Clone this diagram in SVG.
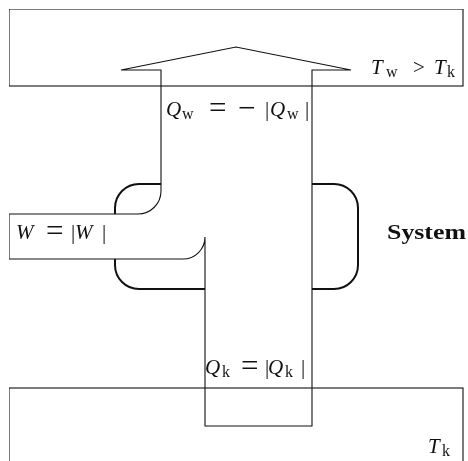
<svg xmlns="http://www.w3.org/2000/svg" width="468" height="461" viewBox="0 0 468 461">
<defs>
<filter id="gray" x="0" y="0" width="1" height="1"><feColorMatrix type="saturate" values="0"/></filter>
</defs>
<style>
.thin{fill:none;stroke:#111;stroke-width:1.1}
.thick{fill:none;stroke:#111;stroke-width:2}
text{font-family:"Liberation Serif","DejaVu Serif",serif;fill:#111}
.m{font-style:italic;font-size:21px}
.r{font-style:normal;font-size:21px}
.e{font-style:normal;font-size:31px}
.s{font-style:normal;font-size:16px}
.b{font-weight:bold;font-size:21px}
</style>
<rect width="468" height="461" fill="#fff"/>
<g filter="url(#gray)">
<g id="hot-reservoir">
<rect class="thin" x="9" y="9" width="454" height="77"/>
<text class="m" y="74"><tspan x="371">T</tspan><tspan class="s" x="386" y="77">w</tspan><tspan class="r" x="413" y="74">&gt;</tspan><tspan x="434">T</tspan><tspan class="s" x="447" y="77">k</tspan></text>
</g>
<g id="cold-reservoir">
<rect class="thin" x="9" y="388" width="454" height="90"/>
<text class="m" y="453"><tspan x="428">T</tspan><tspan class="s" x="442" y="456">k</tspan></text>
</g>
<g id="system">
<path class="thick" d="M161,184 H139 A24,24 0 0 0 115,208 V214"/>
<path class="thick" d="M115,259 V265 A24,24 0 0 0 139,289 H205"/>
<path class="thick" d="M312,184 H334 A24,24 0 0 1 358,208 V265 A24,24 0 0 1 334,289 H312"/>
<text class="b" x="387" y="239" textLength="79" lengthAdjust="spacingAndGlyphs">System</text>
</g>
<g id="connectors">
<path class="thin" d="M9,214 H138 A23,23 0 0 0 161,191 V70 H121 L236,47 L351,70 H312 V426 H205 V237 A22,22 0 0 1 183,259 H9 Z"/>
</g>
<g id="labels">
<text class="m" y="116"><tspan x="166">Q</tspan><tspan class="s" x="182" y="119">w</tspan><tspan class="e" x="209" y="118">=</tspan><tspan class="e" x="238">−</tspan><tspan class="r" x="265" y="116">|</tspan><tspan x="270">Q</tspan><tspan class="s" x="287" y="119">w</tspan><tspan class="r" x="305" y="116">|</tspan></text>
<text class="m" y="239"><tspan x="16">W</tspan><tspan class="e" x="46" y="241">=</tspan><tspan class="r" x="71" y="239">|</tspan><tspan x="75">W</tspan><tspan class="r" x="102">|</tspan></text>
<text class="m" y="374"><tspan x="205">Q</tspan><tspan class="s" x="222" y="377">k</tspan><tspan class="e" x="241" y="376">=</tspan><tspan class="r" x="265" y="374">|</tspan><tspan x="268">Q</tspan><tspan class="s" x="285" y="377">k</tspan><tspan class="r" x="301" y="374">|</tspan></text>
</g>
</g>
</svg>
